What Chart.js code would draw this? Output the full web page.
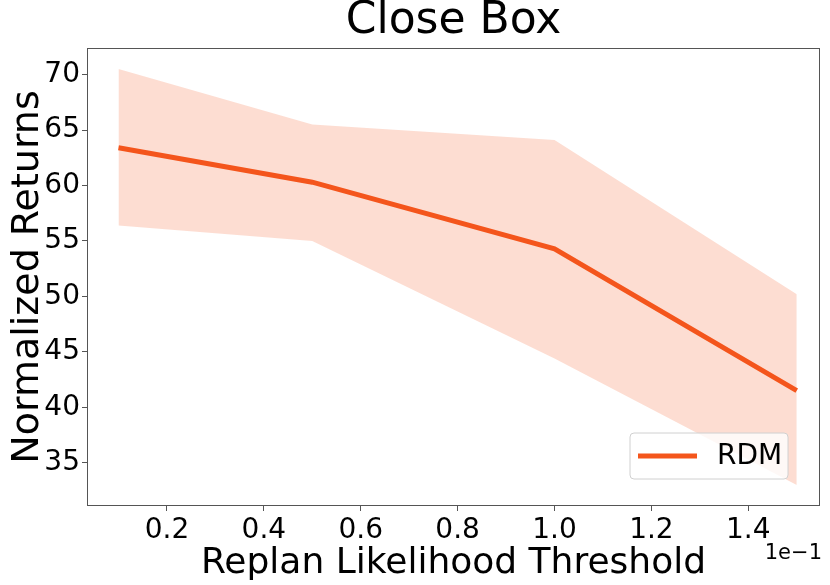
<!DOCTYPE html>
<html>
<head>
<meta charset="utf-8">
<script src="https://cdn.jsdelivr.net/npm/chart.js@4/dist/chart.umd.min.js"></script>
<style>
  html, body { margin: 0; padding: 0; background: #fff; }
  #wrap { width: 830px; height: 585px; }
</style>
</head>
<body>
<div id="wrap"><canvas id="chart" width="830" height="585"></canvas></div>
<script>
// data (x is in units of 1e-1)
const thresholds = [0.1, 0.5, 1.0, 1.5];
const meanReturns = [63.4, 60.3, 54.3, 41.5];
const upperReturns = [70.5, 65.5, 64.1, 50.2];
const lowerReturns = [56.4, 55.0, 44.4, 33.0];
const xTickValues = [0.2, 0.4, 0.6, 0.8, 1.0, 1.2, 1.4];
const yTickValues = [35, 40, 45, 50, 55, 60, 65, 70];

const FONT = "'DejaVu Sans', sans-serif";
const lineColor = '#f4561c';
const bandColor = 'rgba(244, 86, 28, 0.2)';

const pts = vals => thresholds.map((x, i) => ({ x: x, y: vals[i] }));

// title over the plot, frame, legend and the offset text under the x axis
const extras = {
    id: 'extras',
    afterDraw(chart) {
        const ctx = chart.ctx;
        const a = chart.chartArea;
        ctx.save();
        ctx.strokeStyle = '#555';
        ctx.lineWidth = 1;
        ctx.strokeRect(a.left + 0.5, a.top + 0.5, a.right - a.left - 1, a.bottom - a.top - 1);

        ctx.fillStyle = '#000';
        ctx.font = '44px ' + FONT;
        ctx.textAlign = 'center';
        ctx.textBaseline = 'middle';
        ctx.fillText('Close Box', (a.left + a.right) / 2, 22);

        // legend box bottom right
        const w = 158, h = 46;
        const lx = a.right - 32 - w, ly = a.bottom - 27 - h;
        ctx.beginPath();
        ctx.roundRect(lx, ly, w, h, 4);
        ctx.fillStyle = 'rgba(255,255,255,0.8)';
        ctx.fill();
        ctx.strokeStyle = '#d0d0d0';
        ctx.lineWidth = 1;
        ctx.stroke();
        ctx.beginPath();
        ctx.moveTo(lx + 8, ly + h / 2);
        ctx.lineTo(lx + 67, ly + h / 2);
        ctx.strokeStyle = lineColor;
        ctx.lineWidth = 5;
        ctx.stroke();
        ctx.fillStyle = '#000';
        ctx.font = '28px ' + FONT;
        ctx.textAlign = 'left';
        ctx.fillText('RDM', lx + 87, ly + h / 2 + 1);

        ctx.font = '21px ' + FONT;
        ctx.textAlign = 'right';
        ctx.fillText('1e\u22121', a.right + 2, a.bottom + 48);
        ctx.restore();
    }
};

new Chart(document.getElementById('chart'), {
    type: 'line',
    data: {
        datasets: [
            {
                label: 'upper',
                data: pts(upperReturns),
                borderWidth: 0,
                pointRadius: 0,
                fill: false
            },
            {
                label: 'lower',
                data: pts(lowerReturns),
                borderWidth: 0,
                pointRadius: 0,
                backgroundColor: bandColor,
                fill: '-1'
            },
            {
                label: 'RDM',
                data: pts(meanReturns),
                borderColor: lineColor,
                borderWidth: 5,
                pointRadius: 0,
                fill: false
            }
        ]
    },
    options: {
        responsive: false,
        animation: false,
        layout: { padding: { right: 10, left: 0, top: 48, bottom: 0 } },
        plugins: {
            legend: { display: false },
            tooltip: { enabled: false },
            title: { display: false }
        },
        scales: {
            x: {
                type: 'linear',
                min: 0.035,
                max: 1.548,
                afterBuildTicks: axis => { axis.ticks = xTickValues.map(v => ({ value: v })); },
                afterFit: axis => { axis.height = 79; },
                grid: { display: true, drawOnChartArea: false, drawTicks: true, tickLength: 5, color: '#555' },
                border: { display: false },
                ticks: {
                    color: '#000',
                    padding: 3,
                    maxRotation: 0,
                    font: { family: FONT, size: 28 },
                    callback: v => v.toFixed(1)
                },
                title: {
                    display: true,
                    text: 'Replan Likelihood Threshold',
                    color: '#000',
                    font: { family: FONT, size: 36 },
                    padding: { top: 0, bottom: 0 }
                }
            },
            y: {
                min: 31.1,
                max: 72.4,
                afterBuildTicks: axis => { axis.ticks = yTickValues.map(v => ({ value: v })); },
                afterFit: axis => { axis.width = 87; },
                grid: { display: true, drawOnChartArea: false, drawTicks: true, tickLength: 5, color: '#555' },
                border: { display: false },
                ticks: {
                    color: '#000',
                    padding: 2,
                    font: { family: FONT, size: 28 }
                },
                title: {
                    display: true,
                    text: 'Normalized Returns',
                    color: '#000',
                    font: { family: FONT, size: 38 },
                    padding: { top: 5, bottom: 0 }
                }
            }
        }
    },
    plugins: [extras]
});
</script>
</body>
</html>
